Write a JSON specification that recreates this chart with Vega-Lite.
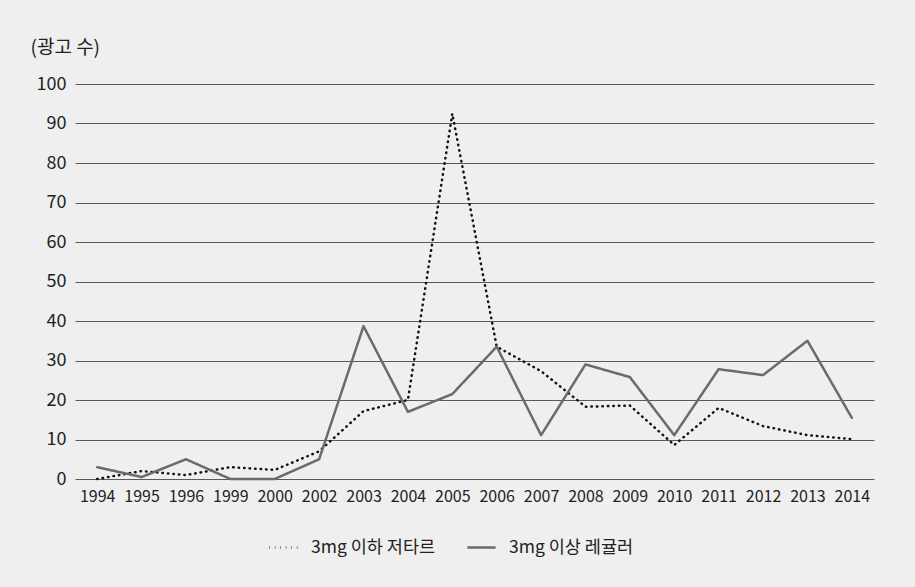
{
  "$schema": "https://vega.github.io/schema/vega-lite/v6.json",
  "width": 799,
  "height": 395,
  "autosize": {"type": "none"},
  "padding": {"left": 75, "top": 84, "right": 41, "bottom": 108},
  "background": "#efefef",
  "config": {
    "font": "Noto Sans CJK KR",
    "view": {"stroke": null},
    "axis": {"domain": false, "ticks": false, "labelColor": "#222", "titleColor": "#222"}
  },
  "data": {
    "values": [
      {"year": "1994", "series": "3mg 이하 저타르", "count": 0},
      {"year": "1995", "series": "3mg 이하 저타르", "count": 2},
      {"year": "1996", "series": "3mg 이하 저타르", "count": 1},
      {"year": "1999", "series": "3mg 이하 저타르", "count": 3},
      {"year": "2000", "series": "3mg 이하 저타르", "count": 2.3},
      {"year": "2002", "series": "3mg 이하 저타르", "count": 7},
      {"year": "2003", "series": "3mg 이하 저타르", "count": 17.2},
      {"year": "2004", "series": "3mg 이하 저타르", "count": 20},
      {"year": "2005", "series": "3mg 이하 저타르", "count": 92.5},
      {"year": "2006", "series": "3mg 이하 저타르", "count": 33.5},
      {"year": "2007", "series": "3mg 이하 저타르", "count": 27.3},
      {"year": "2008", "series": "3mg 이하 저타르", "count": 18.3},
      {"year": "2009", "series": "3mg 이하 저타르", "count": 18.6},
      {"year": "2010", "series": "3mg 이하 저타르", "count": 8.6},
      {"year": "2011", "series": "3mg 이하 저타르", "count": 18},
      {"year": "2012", "series": "3mg 이하 저타르", "count": 13.4},
      {"year": "2013", "series": "3mg 이하 저타르", "count": 11.1},
      {"year": "2014", "series": "3mg 이하 저타르", "count": 10.1},
      {"year": "1994", "series": "3mg 이상 레귤러", "count": 3},
      {"year": "1995", "series": "3mg 이상 레귤러", "count": 0.5},
      {"year": "1996", "series": "3mg 이상 레귤러", "count": 5},
      {"year": "1999", "series": "3mg 이상 레귤러", "count": 0},
      {"year": "2000", "series": "3mg 이상 레귤러", "count": 0},
      {"year": "2002", "series": "3mg 이상 레귤러", "count": 5},
      {"year": "2003", "series": "3mg 이상 레귤러", "count": 38.7},
      {"year": "2004", "series": "3mg 이상 레귤러", "count": 17},
      {"year": "2005", "series": "3mg 이상 레귤러", "count": 21.5},
      {"year": "2006", "series": "3mg 이상 레귤러", "count": 33.5},
      {"year": "2007", "series": "3mg 이상 레귤러", "count": 11.1},
      {"year": "2008", "series": "3mg 이상 레귤러", "count": 29},
      {"year": "2009", "series": "3mg 이상 레귤러", "count": 25.8},
      {"year": "2010", "series": "3mg 이상 레귤러", "count": 11.1},
      {"year": "2011", "series": "3mg 이상 레귤러", "count": 27.8},
      {"year": "2012", "series": "3mg 이상 레귤러", "count": 26.3},
      {"year": "2013", "series": "3mg 이상 레귤러", "count": 35},
      {"year": "2014", "series": "3mg 이상 레귤러", "count": 15.5}
    ]
  },
  "mark": {"type": "line", "strokeWidth": 2.5, "strokeCap": "round", "strokeJoin": "round"},
  "encoding": {
    "x": {
      "field": "year", "type": "ordinal", "sort": null,
      "scale": {"type": "point", "padding": 0.5},
      "axis": {"title": null, "labelAngle": 0, "labelFontSize": 16, "labelPadding": 9, "grid": false}
    },
    "y": {
      "field": "count", "type": "quantitative",
      "scale": {"domain": [0, 100]},
      "axis": {
        "values": [0, 10, 20, 30, 40, 50, 60, 70, 80, 90, 100],
        "title": "(광고 수)", "titleAngle": 0, "titleAlign": "left", "titleBaseline": "middle",
        "titleX": -45, "titleY": -37, "titleFontSize": 19, "titleFontWeight": "normal",
        "labelFontSize": 18, "labelPadding": 9,
        "grid": true, "gridColor": "#5a5a5a", "gridWidth": 1
      }
    },
    "color": {
      "field": "series", "type": "nominal",
      "scale": {"domain": ["3mg 이하 저타르", "3mg 이상 레귤러"], "range": ["#111111", "#6b6b6b"]},
      "legend": {
        "title": null, "orient": "none", "direction": "horizontal",
        "legendX": 193, "legendY": 448,
        "labelFontSize": 17.5, "labelColor": "#222", "symbolType": "stroke",
        "symbolSize": 800, "symbolStrokeWidth": 2.5, "columnPadding": 26, "labelOffset": 12
      }
    },
    "strokeDash": {
      "field": "series", "type": "nominal",
      "scale": {"domain": ["3mg 이하 저타르", "3mg 이상 레귤러"], "range": [[0.5, 5], [1, 0]]},
      "legend": null
    }
  }
}
